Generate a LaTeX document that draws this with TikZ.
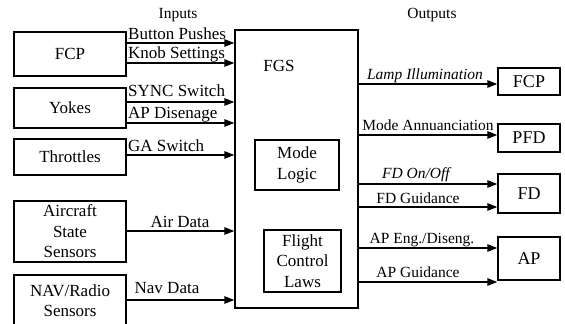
\documentclass[tikz,border=0pt]{standalone}
\usepackage{fontspec}
\setmainfont{Liberation Serif}
\usetikzlibrary{arrows.meta}
\newcommand{\fsA}{\fontsize{17}{20.5}\selectfont}
\newcommand{\fsB}{\fontsize{15.5}{18}\selectfont}
\newcommand{\fsC}{\fontsize{18}{21}\selectfont}
\begin{document}
\begin{tikzpicture}[x=1pt,y=-1pt,
  box/.style={draw,line width=1.5pt,inner sep=0pt,align=center,font=\fsA},
  obox/.style={box,font=\fsC,minimum width=62pt},
  lbox/.style={box,minimum width=112pt},
  arr/.style={-{Triangle[length=10pt,width=7.5pt]},line width=1.5pt},
  lbl/.style={inner sep=0pt,font=\fsA,anchor=base west},
  olbl/.style={inner sep=0pt,font=\fsB,anchor=base},
]
\useasboundingbox (0,0) rectangle (565,324);
% left boxes
\node[lbox,minimum height=44pt] (fcpL) at (70,54) {FCP};
\node[lbox,minimum height=40pt] (yokes) at (70,108) {Yokes};
\node[lbox,minimum height=36pt] (thr) at (70,157) {Throttles};
\node[lbox,minimum height=61pt] (acs) at (70,231.5) {Aircraft\\State\\Sensors};
\node[lbox,minimum height=51pt] (nav) at (70,300.5) {NAV/Radio\\Sensors};
% FGS
\node[box,minimum width=123pt,minimum height=278pt] (fgs) at (296.5,169) {};
\node[inner sep=0pt,font=\fsA] (fgst) at (279,66) {FGS};
\node[box,minimum width=84pt,minimum height=50pt] (ml) at (297,165) {Mode\\Logic};
\node[box,minimum width=77pt,minimum height=62pt] (fcl) at (302.5,261) {Flight\\Control\\Laws};
% right boxes
\node[obox,minimum height=27pt] (fcpR) at (529,81.5) {FCP};
\node[obox,minimum height=28pt] (pfd) at (529,138) {PFD};
\node[obox,minimum height=39pt] (fd) at (529,193.5) {FD};
\node[obox,minimum height=43pt] (ap) at (529,258.5) {AP};
% headings
\node[olbl,font=\fsB] (inp) at (178,19) {Inputs};
\node[olbl,font=\fsB] (outp) at (432,18) {Outputs};
% input arrows
\draw[arr] (fcpL.east |- 0,43) -- (fgs.west |- 0,43);
\draw[arr] (fcpL.east |- 0,63) -- (fgs.west |- 0,63);
\draw[arr] (yokes.east |- 0,102) -- (fgs.west |- 0,102);
\draw[arr] (yokes.east |- 0,123) -- (fgs.west |- 0,123);
\draw[arr] (thr.east |- 0,155) -- (fgs.west |- 0,155);
\draw[arr] (acs.east |- 0,231) -- (fgs.west |- 0,231);
\draw[arr] (nav.east |- 0,300) -- (fgs.west |- 0,300);
\node[lbl] (l1) at (128,39) {Button Pushes};
\node[lbl] (l2) at (128,58) {Knob Settings};
\node[lbl] (l3) at (128,96) {SYNC Switch};
\node[lbl] (l4) at (128,118) {AP Disenage};
\node[lbl] (l5) at (128,151) {GA Switch};
\node[lbl,anchor=base] (l6) at (180,227) {Air Data};
\node[lbl,anchor=base] (l7) at (167,293) {Nav Data};
% output arrows
\draw[arr] (fgs.east |- 0,84) -- (fcpR.west |- 0,84);
\draw[arr] (fgs.east |- 0,135) -- (pfd.west |- 0,135);
\draw[arr] (fgs.east |- 0,184) -- (fd.west |- 0,184);
\draw[arr] (fgs.east |- 0,207) -- (fd.west |- 0,207);
\draw[arr] (fgs.east |- 0,248) -- (ap.west |- 0,248);
\draw[arr] (fgs.east |- 0,282) -- (ap.west |- 0,282);
\node[olbl] (o1) at (425,79) {\itshape Lamp Illumination};
\node[olbl] (o2) at (428,130) {Mode Annuanciation};
\node[olbl] (o3) at (416,178) {\itshape FD On/Off};
\node[olbl] (o4) at (418,203) {FD Guidance};
\node[olbl] (o5) at (422,243) {AP Eng./Diseng.};
\node[olbl] (o6) at (418,277) {AP Guidance};
\end{tikzpicture}
\end{document}
